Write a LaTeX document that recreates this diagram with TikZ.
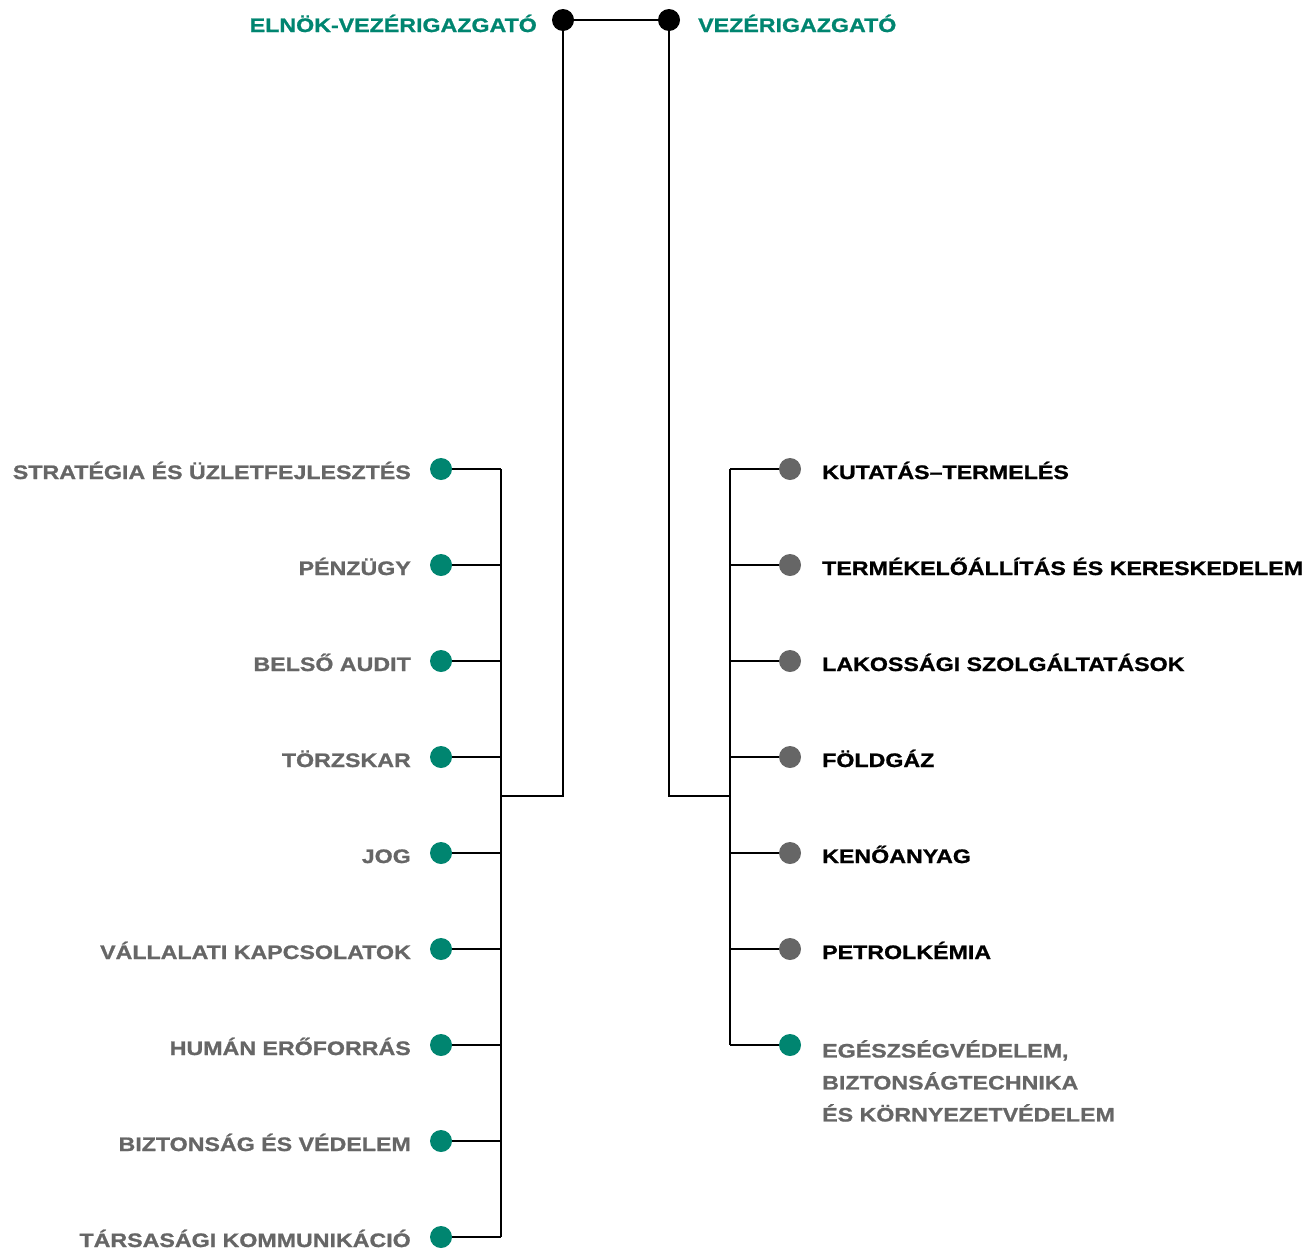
\documentclass[tikz,border=0pt]{standalone}
\usepackage{fontspec}
\setmainfont{Liberation Sans}
\newfontfamily\orgfont[FakeStretch=1.19,FakeBold=1]{Liberation Sans Bold}
\usetikzlibrary{positioning}
\definecolor{molgreen}{RGB}{0,133,112}
\definecolor{molgray}{RGB}{102,102,102}

\begin{document}
\begin{tikzpicture}[x=1pt,y=-1pt,
  dot/.style={circle,fill=#1,inner sep=0pt,minimum size=22pt},
  lbl/.style={font=\orgfont\fontsize{19.5}{32}\selectfont,inner sep=0pt},
  wire/.style={line width=1.4pt}]
\useasboundingbox (0,0) rectangle (1305,1250);
% top
\node[dot=black] (elnok) at (563,20) {};
\node[dot=black] (vezer) at (669,20) {};
\node[lbl,text=molgreen,anchor=base east] (elnoklbl) at (537,32) {ELNÖK-VEZÉRIGAZGATÓ};
\node[lbl,text=molgreen,anchor=base west] (vezerlbl) at (698,32) {VEZÉRIGAZGATÓ};
\draw[wire] (elnok) -- (vezer);
\coordinate (lbus) at (501,796);
\coordinate (rbus) at (730,796);
\draw[wire] (elnok) |- (lbus);
\draw[wire] (vezer) |- (rbus);
% left side
\foreach \name [count=\i] in {STRATÉGIA ÉS ÜZLETFEJLESZTÉS, PÉNZÜGY, BELSŐ AUDIT,
    TÖRZSKAR, JOG, VÁLLALATI KAPCSOLATOK, HUMÁN ERŐFORRÁS,
    BIZTONSÁG ÉS VÉDELEM, TÁRSASÁGI KOMMUNIKÁCIÓ} {
  \node[dot=molgreen] (l\i) at (441,{469+96*(\i-1)}) {};
  \node[lbl,text=molgray,anchor=base east] (l\i lbl) at (411,{479+96*(\i-1)}) {\name};
  \draw[wire] (l\i) -- (l\i -| lbus);
}
\draw[wire] (l1 -| lbus) -- (l9 -| lbus);
% right side
\foreach \name [count=\i] in {KUTATÁS–TERMELÉS, TERMÉKELŐÁLLÍTÁS ÉS KERESKEDELEM,
    LAKOSSÁGI SZOLGÁLTATÁSOK, FÖLDGÁZ, KENŐANYAG, PETROLKÉMIA} {
  \node[dot=molgray] (r\i) at (790,{469+96*(\i-1)}) {};
  \node[lbl,anchor=base west] (r\i lbl) at (822,{479+96*(\i-1)}) {\name};
  \draw[wire] (r\i) -- (r\i -| rbus);
}
\node[dot=molgreen] (r7) at (790,1045) {};
\node[lbl,text=molgray,anchor=north west,align=left] (r7lbl) at (822,1040)
  {EGÉSZSÉGVÉDELEM,\\BIZTONSÁGTECHNIKA\\ÉS KÖRNYEZETVÉDELEM};
\draw[wire] (r7) -- (r7 -| rbus);
\draw[wire] (r1 -| rbus) -- (r7 -| rbus);
\end{tikzpicture}
\end{document}
